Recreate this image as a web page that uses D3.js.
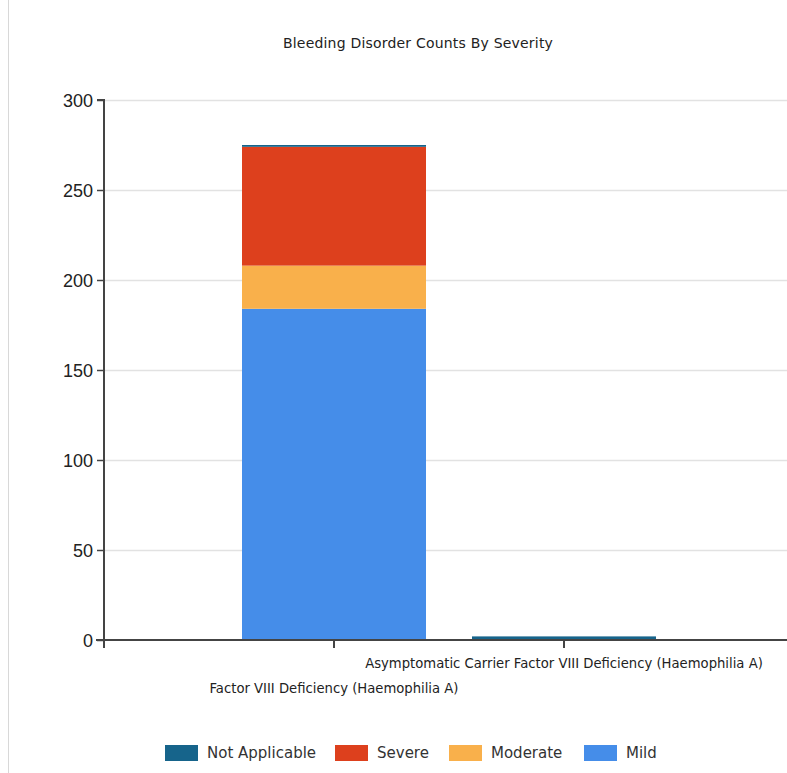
<!DOCTYPE html>
<html>
<head>
<meta charset="utf-8">
<script src="https://cdn.jsdelivr.net/npm/d3@7"></script>
<style>
  body { margin: 0; background: #fff; }
  svg { display: block; }
</style>
</head>
<body>
<svg id="chart" width="787" height="773"></svg>
<script>
// chart data
var categories = ["Factor VIII Deficiency (Haemophilia A)", "Asymptomatic Carrier Factor VIII Deficiency (Haemophilia A)"];
var severities = ["Mild", "Moderate", "Severe", "Not Applicable"];
var mild = [184, 0];
var moderate = [24, 0];
var severe = [66, 0];
var notApplicable = [1, 2];
var yTicks = [0, 50, 100, 150, 200, 250, 300];
var legendOrder = ["Not Applicable", "Severe", "Moderate", "Mild"];

var colors = {
  "Not Applicable": "#16648b",
  "Severe": "#dd401d",
  "Moderate": "#f9b04b",
  "Mild": "#458de9"
};

var rows = categories.map(function(c, i) {
  return { cat: c, "Mild": mild[i], "Moderate": moderate[i], "Severe": severe[i], "Not Applicable": notApplicable[i] };
});

var svg = d3.select("#chart");
var plotL = 104, plotT = 100, plotB = 640, plotR = 794;
var labelFont = "DejaVu Sans, sans-serif";

// thin frame line on the left
svg.append("line").attr("x1", 8.5).attr("x2", 8.5).attr("y1", 0).attr("y2", 773)
  .attr("stroke", "#d8d8d8").attr("stroke-width", 1);

svg.append("text").attr("x", 418).attr("y", 48).attr("text-anchor", "middle")
  .attr("font-family", labelFont).attr("font-size", "14px").attr("fill", "#222")
  .attr("letter-spacing", "0.2px")
  .text("Bleeding Disorder Counts By Severity");

var x = d3.scaleBand().domain(categories).range([plotL, plotR]).paddingInner(0.2).paddingOuter(0.6);
var y = d3.scaleLinear().domain([0, 300]).range([plotB, plotT]);

// grid
svg.append("g").selectAll("line").data(yTicks.filter(function(d){ return d > 0; })).enter().append("line")
  .attr("x1", plotL).attr("x2", 787)
  .attr("y1", function(d){ return y(d) + 0.5; }).attr("y2", function(d){ return y(d) + 0.5; })
  .attr("stroke", "#e2e2e2").attr("stroke-width", 1.5);

// stacked bars
var stack = d3.stack().keys(severities);
var layers = stack(rows);
svg.append("g").selectAll("g").data(layers).enter().append("g")
  .attr("fill", function(d){ return colors[d.key]; })
  .selectAll("rect").data(function(d){ return d; }).enter().append("rect")
  .attr("x", function(d){ return x(d.data.cat); })
  .attr("width", x.bandwidth())
  .attr("y", function(d){ return y(d[1]); })
  .attr("height", function(d){ return y(d[0]) - y(d[1]); });

// y axis
var yAxis = svg.append("g").attr("transform", "translate(" + plotL + ",0)")
  .call(d3.axisLeft(y).tickValues(yTicks).tickSize(7).tickPadding(4));
yAxis.select(".domain").attr("stroke", "#444").attr("stroke-width", 2).attr("d", "M-7," + plotT + "H0V" + plotB);
yAxis.selectAll(".tick line").attr("stroke", "#444").attr("stroke-width", 1.5);
yAxis.selectAll(".tick text").attr("font-family", "Liberation Sans, Arial, sans-serif")
  .attr("font-size", "18px").attr("fill", "#222").attr("dy", "0.35em");

// x axis
var xAxisG = svg.append("g").attr("transform", "translate(0," + plotB + ")");
xAxisG.append("line").attr("x1", plotL - 8).attr("x2", 787).attr("y1", 0).attr("y2", 0)
  .attr("stroke", "#444").attr("stroke-width", 2);
xAxisG.append("line").attr("x1", plotL).attr("x2", plotL).attr("y1", 0).attr("y2", 8)
  .attr("stroke", "#444").attr("stroke-width", 2);
xAxisG.selectAll("line.tk").data(categories).enter().append("line").attr("class", "tk")
  .attr("x1", function(d){ return x(d) + x.bandwidth() / 2; })
  .attr("x2", function(d){ return x(d) + x.bandwidth() / 2; })
  .attr("y1", 0).attr("y2", 8).attr("stroke", "#444").attr("stroke-width", 2);
xAxisG.selectAll("text").data(categories).enter().append("text")
  .attr("x", function(d){ return x(d) + x.bandwidth() / 2; })
  .attr("y", function(d, i){ return i === 0 ? 53 : 28; })
  .attr("text-anchor", "middle")
  .attr("font-family", labelFont).attr("font-size", "13.2px").attr("fill", "#222")
  .text(function(d){ return d; });

// legend
var legendX = [165, 335, 449, 584];
var lg = svg.append("g").selectAll("g").data(legendOrder).enter().append("g")
  .attr("transform", function(d, i){ return "translate(" + legendX[i] + ",745)"; });
lg.append("rect").attr("width", 33).attr("height", 16).attr("fill", function(d){ return colors[d]; });
lg.append("text").attr("x", 42).attr("y", 13)
  .attr("font-family", labelFont).attr("font-size", "15px").attr("fill", "#333")
  .text(function(d){ return d; });
</script>
</body>
</html>
